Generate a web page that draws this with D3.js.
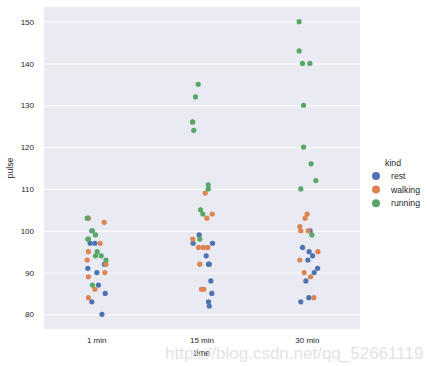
<!DOCTYPE html>
<html>
<head>
<meta charset="utf-8">
<script src="https://cdn.jsdelivr.net/npm/d3@7/dist/d3.min.js"></script>
<style>
	body { margin: 0; background: #fff; }
	svg { display: block; font-family: Arial, "Liberation Sans", sans-serif; }
</style>
</head>
<body>
<svg></svg>
<script>
const times = ["1 min", "15 min", "30 min"]
const kinds = ["rest", "walking", "running"]
const yTicks = [80, 90, 100, 110, 120, 130, 140, 150]

// pulse per subject, one row per time (1, 15, 30 min)
const rest = [
	[85, 90, 97, 80, 91, 83, 87, 92, 97, 100],
	[85, 92, 97, 82, 92, 83, 88, 94, 99, 97],
	[88, 93, 94, 83, 91, 84, 90, 95, 96, 100]
]
const walking = [
	[86, 93, 90, 95, 89, 84, 103, 92, 97, 102],
	[86, 103, 92, 96, 96, 86, 109, 96, 98, 104],
	[84, 104, 93, 100, 95, 89, 90, 101, 100, 103]
]
const running = [
	[93, 98, 98, 87, 94, 95, 100, 103, 94, 99],
	[98, 104, 105, 132, 110, 126, 126, 124, 135, 111],
	[110, 112, 99, 120, 116, 143, 140, 140, 130, 150]
]

// strip jitter, in fractions of a category width
const restJitter = [
	[.081, .002, -.062, .050, -.084, -.046, .017, .074, -.017, -.046],
	[.093, .062, -.084, .069, .069, .062, .084, .040, -.027, .100],
	[-.014, .005, .050, -.062, .097, .014, .065, .017, -.046, .027]
]
const walkingJitter = [
	[-.017, -.090, .078, -.078, -.078, -.078, -.078, .088, .033, .071],
	[-.005, .046, -.021, -.033, .014, .017, .030, .055, -.088, .097],
	[.062, -.002, -.071, -.062, .100, .030, -.030, -.071, .008, -.021]
]
const runningJitter = [
	[.088, -.084, -.078, -.040, -.011, .005, -.040, -.090, .043, -.011],
	[-.021, .008, -.014, -.062, .059, -.090, -.088, -.078, -.036, .059],
	[-.062, .081, .043, -.036, .036, -.078, -.046, .024, -.036, -.078]
]

const palette = ["#4c72b0", "#dd8452", "#55a868"]

const width = 428
const height = 366
const plot = {left: 44, right: 360, top: 7, bottom: 329}

const svg = d3.select("svg")
	.attr("width", width)
	.attr("height", height)

const x = d3.scaleBand().domain(times).range([plot.left, plot.right])
const y = d3.scaleLinear().domain([76.5, 153.5]).range([plot.bottom, plot.top])
const color = d3.scaleOrdinal().domain(kinds).range(palette)

// seaborn draws group by group, hue level by hue level
const values = {rest: rest, walking: walking, running: running}
const jitters = {rest: restJitter, walking: walkingJitter, running: runningJitter}
const points = []
times.forEach((t, i) => {
	kinds.forEach(k => {
		values[k][i].forEach((v, j) => {
			points.push({time: t, kind: k, pulse: v, jitter: jitters[k][i][j]})
		})
	})
})

// background + grid
svg.append("rect")
	.attr("x", plot.left)
	.attr("y", plot.top)
	.attr("width", plot.right - plot.left)
	.attr("height", plot.bottom - plot.top)
	.attr("fill", "#eaeaf2")

const yAxis = svg.append("g")
	.attr("transform", `translate(${plot.left},0)`)
	.call(d3.axisLeft(y).tickValues(yTicks).tickSize(-(plot.right - plot.left)).tickPadding(10))
yAxis.select(".domain").remove()
yAxis.selectAll(".tick line").attr("stroke", "#fff").attr("stroke-width", 1)
yAxis.selectAll(".tick text").attr("fill", "#262626").attr("font-size", 8)

const xAxis = svg.append("g")
	.attr("transform", `translate(0,${plot.bottom})`)
	.call(d3.axisBottom(x).tickSize(0).tickPadding(8))
xAxis.select(".domain").remove()
xAxis.selectAll(".tick text").attr("fill", "#262626").attr("font-size", 8)

svg.append("g").selectAll("circle")
	.data(points)
	.enter()
		.append("circle")
		.attr("cx", d => x(d.time) + x.bandwidth() / 2 + d.jitter * x.bandwidth())
		.attr("cy", d => y(d.pulse))
		.attr("r", 2.6)
		.attr("fill", d => color(d.kind))

// axis labels
svg.append("text")
	.attr("x", (plot.left + plot.right) / 2)
	.attr("y", 356)
	.attr("text-anchor", "middle")
	.attr("font-size", 8.7)
	.attr("fill", "#262626")
	.text("time")

svg.append("text")
	.attr("transform", `translate(13,${(plot.top + plot.bottom) / 2}) rotate(-90)`)
	.attr("text-anchor", "middle")
	.attr("font-size", 8.7)
	.attr("fill", "#262626")
	.text("pulse")

// legend
const legend = svg.append("g").attr("transform", "translate(376,163)")
legend.append("text")
	.attr("x", 17)
	.attr("y", 3)
	.attr("text-anchor", "middle")
	.attr("font-size", 8.7)
	.attr("fill", "#262626")
	.text("kind")
const item = legend.selectAll(".item")
	.data(kinds)
	.enter()
		.append("g")
		.attr("class", "item")
		.attr("transform", (d, i) => `translate(0,${13 + i * 13.6})`)
item.append("circle")
	.attr("r", 4)
	.attr("fill", d => color(d))
item.append("text")
	.attr("x", 15)
	.attr("y", 3)
	.attr("font-size", 8.7)
	.attr("fill", "#262626")
	.text(d => d)

// watermark from the source image
svg.append("text")
	.attr("x", 165)
	.attr("y", 359)
	.attr("font-size", 17)
	.attr("fill", "#dcdcdc")
	.attr("opacity", 0.8)
	.text("https://blog.csdn.net/qq_52661119")
</script>
</body>
</html>
